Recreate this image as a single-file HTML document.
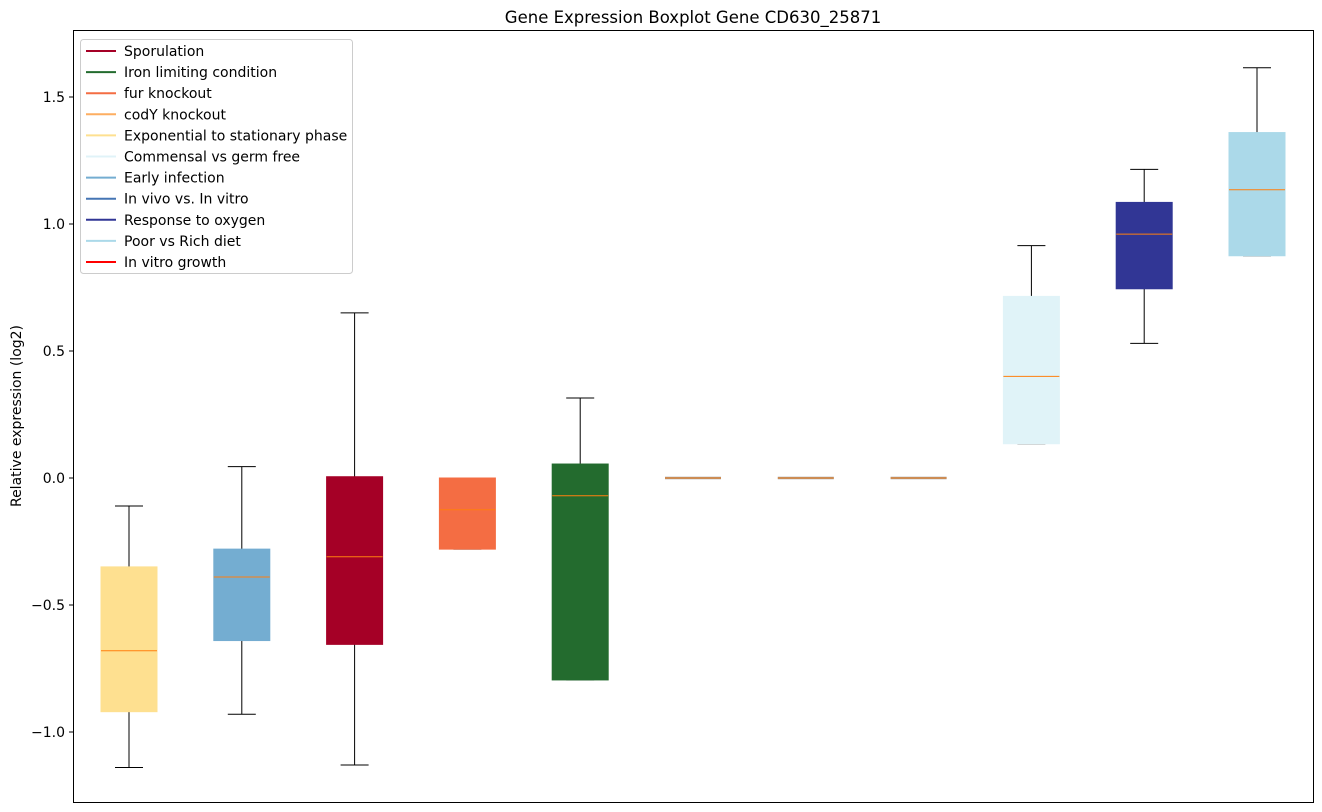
<!DOCTYPE html>
<html><head><meta charset="utf-8"><style>
body{margin:0;background:#fff;}
svg{display:block;font-family:"DejaVu Sans","Liberation Sans",sans-serif;}
</style></head><body>
<svg id="chart" width="1322" height="812" xmlns="http://www.w3.org/2000/svg">
<rect x="0" y="0" width="1322" height="812" fill="#fff"/>
<text x="693" y="23" text-anchor="middle" font-size="16.5">Gene Expression Boxplot Gene CD630_25871</text>
<text transform="translate(21,416) rotate(-90)" text-anchor="middle" font-size="14">Relative expression (log2)</text>
<g id="ticks"></g>
<g id="boxes"></g>
<rect x="73.5" y="30.5" width="1240" height="772" fill="none" stroke="#000" stroke-width="1"/>
<g id="legend"></g>
</svg>
<script>
const categories=["Exponential to stationary phase","Early infection","Sporulation","fur knockout","Iron limiting condition","codY knockout","In vivo vs. In vitro","In vitro growth","Commensal vs germ free","Response to oxygen","Poor vs Rich diet"];
const boxColors=["#FEE090","#74ADD1","#A50026","#F46D43","#236B2E","#FDAE61","#4575B4","#FF0000","#E0F3F8","#313695","#ABD9E9"];
const whiskerLow=[-1.14,-0.93,-1.13,-0.28,-0.795,0,0,0,0.135,0.53,0.875];
const q1=[-0.92,-0.64,-0.655,-0.28,-0.795,0,0,0,0.135,0.745,0.875];
const medians=[-0.68,-0.39,-0.31,-0.125,-0.07,0,0,0,0.4,0.96,1.135];
const q3=[-0.35,-0.28,0.005,0.0,0.055,0,0,0,0.715,1.085,1.36];
const whiskerHigh=[-0.11,0.045,0.65,0.0,0.315,0,0,0,0.915,1.215,1.615];
const yTicks=[-1.0,-0.5,0.0,0.5,1.0,1.5];
const yTickLabels=["\u22121.0","\u22120.5","0.0","0.5","1.0","1.5"];
const legendLabels=["Sporulation","Iron limiting condition","fur knockout","codY knockout","Exponential to stationary phase","Commensal vs germ free","Early infection","In vivo vs. In vitro","Response to oxygen","Poor vs Rich diet","In vitro growth"];
const legendColors=["#A50026","#236B2E","#F46D43","#FDAE61","#FEE090","#E0F3F8","#74ADD1","#4575B4","#313695","#ABD9E9","#FF0000"];

const NS="http://www.w3.org/2000/svg";
function y(v){return 478-254*v;}
function x(i){return 129+i*112.8;}
function mk(tag,attrs,parent){const e=document.createElementNS(NS,tag);for(const k in attrs)e.setAttribute(k,attrs[k]);parent.appendChild(e);return e;}
const tg=document.getElementById('ticks');
yTicks.forEach((t,i)=>{
  const l=mk('line',{x1:69,x2:73.5,y1:y(t),y2:y(t),stroke:'#000'},tg);
  
  
  const tx=mk('text',{x:65,y:y(t)+5,'text-anchor':'end','font-size':'14'},tg);
  tx.textContent=yTickLabels[i];
  
  
});
const bg=document.getElementById('boxes');
const hw=28, cw=14;
categories.forEach((c,i)=>{
  const g=mk('g',{},bg);
  
  
  const cx=x(i);
  const flat=(whiskerHigh[i]===whiskerLow[i]&&q1[i]===q3[i]);
  if(!flat){
    mk('line',{x1:cx,x2:cx,y1:y(whiskerHigh[i]),y2:y(q3[i]),stroke:'#000'},g);
    mk('line',{x1:cx,x2:cx,y1:y(q1[i]),y2:y(whiskerLow[i]),stroke:'#000'},g);
    mk('line',{x1:cx-cw,x2:cx+cw,y1:y(whiskerHigh[i]),y2:y(whiskerHigh[i]),stroke:'#000'},g);
    mk('line',{x1:cx-cw,x2:cx+cw,y1:y(whiskerLow[i]),y2:y(whiskerLow[i]),stroke:'#000'},g);
    const top=y(q3[i]),bot=y(q1[i]);
    mk('rect',{x:cx-hw,y:top,width:2*hw,height:Math.max(bot-top,1),fill:boxColors[i],stroke:boxColors[i]},g);
  } else {
    mk('line',{x1:cx-hw,x2:cx+hw,y1:y(q1[i]),y2:y(q1[i]),stroke:'#999','stroke-width':2.5},g);
  }
  mk('line',{x1:cx-hw,x2:cx+hw,y1:y(medians[i]),y2:y(medians[i]),stroke:'#FF7F0E','stroke-width':1},g);
});
const lg=document.getElementById('legend');
const lb=mk('rect',{x:80.5,y:39.5,width:272,height:234,rx:3,fill:'#fff','fill-opacity':0.8,stroke:'#ccc'},lg);


legendLabels.forEach((lab,i)=>{
  const g=mk('g',{},lg);
  
  
  const yy=51+i*21.1;
  mk('line',{x1:86,x2:116,y1:yy,y2:yy,stroke:legendColors[i],'stroke-width':2},g);
  const t=mk('text',{x:124,y:yy+5,'font-size':'14'},g);
  t.textContent=lab;
});
</script>
</body></html>
